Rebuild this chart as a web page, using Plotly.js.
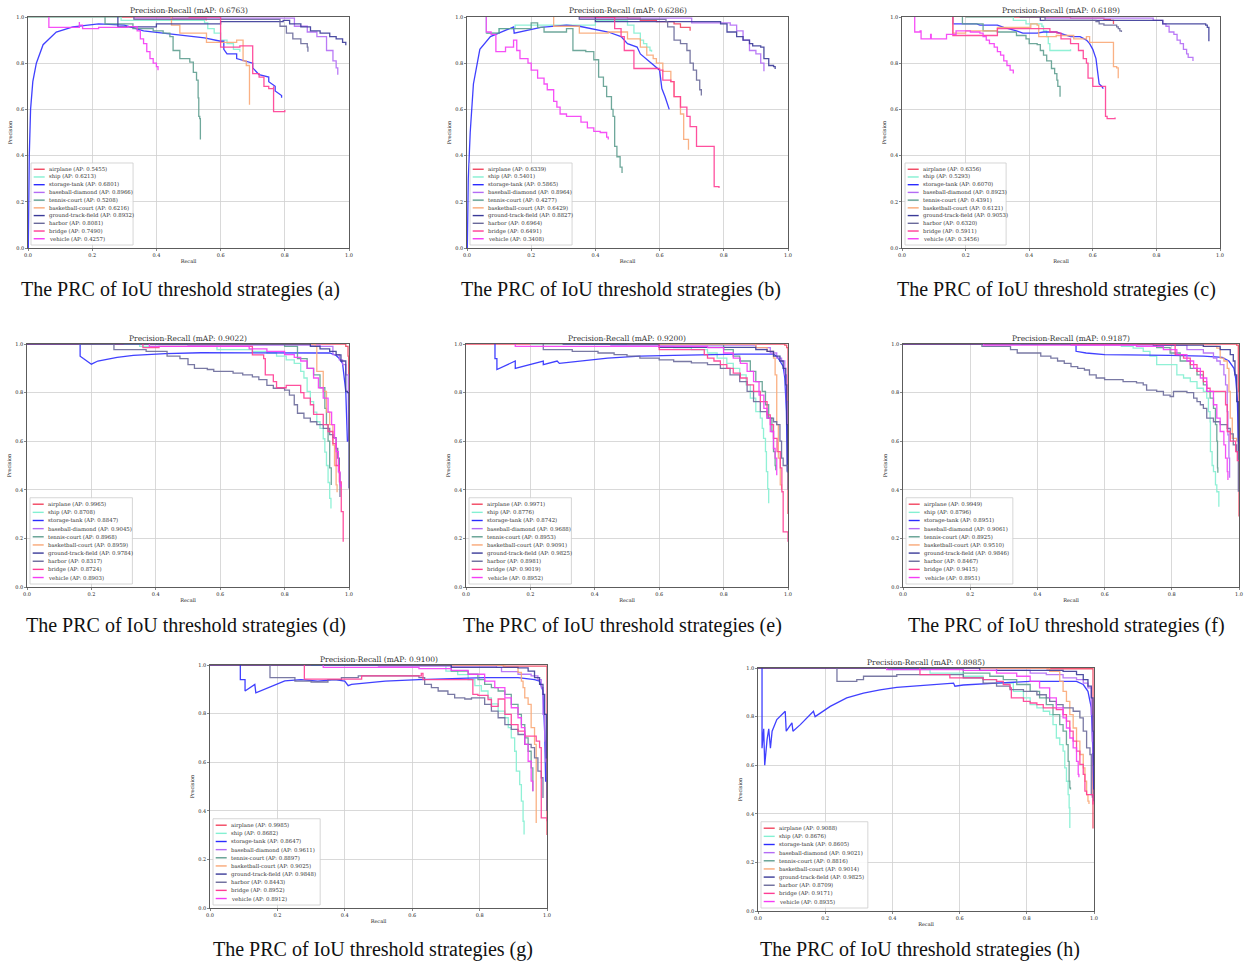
<!DOCTYPE html>
<html><head><meta charset="utf-8">
<script src="https://cdn.plot.ly/plotly-3.0.1.min.js"></script>
<style>html,body{margin:0;padding:0;background:#fff}#chart{width:1247px;height:964px}</style>
</head><body><div id="chart"></div>
<script>
// ---------------- DATA ----------------
const classNames = ['airplane','ship','storage-tank','baseball-diamond','tennis-court','basketball-court','ground-track-field','harbor','bridge','vehicle'];
const panelLetters = ['a','b','c','d','e','f','g','h'];
const mAPValues = [0.6763, 0.6286, 0.6189, 0.9022, 0.9200, 0.9187, 0.9100, 0.8985];
const apA = [0.5455,0.6213,0.6801,0.8966,0.5208,0.6216,0.8932,0.8081,0.7490,0.4257];
const apB = [0.6339,0.5401,0.5865,0.8964,0.4277,0.6429,0.8827,0.6964,0.6491,0.3408];
const apC = [0.6356,0.5293,0.6070,0.8923,0.4391,0.6121,0.9053,0.6320,0.5911,0.3456];
const apD = [0.9965,0.8708,0.8847,0.9045,0.8968,0.8959,0.9784,0.8317,0.8724,0.8903];
const apE = [0.9971,0.8776,0.8742,0.9688,0.8953,0.9091,0.9825,0.8981,0.9019,0.8952];
const apF = [0.9949,0.8796,0.8951,0.9061,0.8925,0.9510,0.9846,0.8467,0.9415,0.8951];
const apG = [0.9985,0.8682,0.8647,0.9611,0.8897,0.9025,0.9848,0.8443,0.8952,0.8912];
const apH = [0.9088,0.8676,0.8605,0.9021,0.8816,0.9014,0.9825,0.8709,0.9171,0.8935];

// curves: [recall, precision] pairs
// (a)
const a_airplane = [[0,1],[0.45,1],[0.45,0.995],[0.55,0.995],[0.555,0.985]];
const a_ship = [[0,1],[0.29,1],[0.29,0.985],[0.55,0.975],[0.56,0.95],[0.58,0.93],[0.6,0.9],[0.62,0.885],[0.64,0.86],[0.66,0.85]];
const a_storage = [[0.001,0],[0.002,0.2],[0.004,0.4],[0.008,0.6],[0.015,0.72],[0.026,0.8],[0.047,0.88],[0.088,0.935],[0.14,0.957],[0.22,0.97],[0.3,0.965],[0.36,0.94],[0.43,0.93],[0.5,0.92],[0.55,0.91],[0.6,0.895],[0.61,0.895],[0.61,0.86],[0.62,0.84],[0.65,0.84],[0.65,0.82],[0.7,0.8],[0.7,0.78],[0.72,0.75],[0.75,0.74],[0.75,0.72],[0.77,0.7],[0.77,0.68],[0.79,0.66],[0.79,0.65]];
const a_baseball = [[0.33,1],[0.33,0.995],[0.8,0.995],[0.83,0.96],[0.87,0.935],[0.9,0.915],[0.93,0.855],[0.95,0.81],[0.96,0.78],[0.965,0.75]];
const a_tennis = [[0.24,1],[0.24,0.97],[0.327,0.95],[0.39,0.94],[0.421,0.93],[0.442,0.915],[0.452,0.855],[0.473,0.82],[0.504,0.805],[0.515,0.76],[0.525,0.727],[0.53,0.65],[0.532,0.57],[0.535,0.56],[0.537,0.47]];
const a_basketball = [[0.447,1],[0.447,0.965],[0.473,0.93],[0.556,0.93],[0.556,0.89],[0.65,0.89],[0.65,0.9],[0.67,0.9],[0.67,0.81],[0.68,0.79],[0.69,0.79],[0.69,0.62]];
const a_gtf = [[0.28,1],[0.28,0.957],[0.4,0.97],[0.6,0.98],[0.795,0.985],[0.815,0.97],[0.85,0.957],[0.88,0.94],[0.91,0.93],[0.94,0.915],[0.96,0.905],[0.98,0.89],[0.99,0.878]];
const a_harbor = [[0.33,1],[0.33,0.99],[0.765,0.99],[0.785,0.96],[0.805,0.93],[0.825,0.905],[0.85,0.885],[0.87,0.87],[0.872,0.85]];
const a_bridge = [[0.5,1],[0.6,1],[0.6,0.87],[0.66,0.87],[0.66,0.875],[0.7,0.875],[0.7,0.755],[0.72,0.74],[0.735,0.7],[0.75,0.69],[0.765,0.7],[0.765,0.59],[0.8,0.597]];
const a_vehicle = [[0.065,1],[0.065,0.955],[0.16,0.978],[0.16,0.965],[0.17,0.95],[0.22,0.955],[0.31,0.958],[0.34,0.94],[0.35,0.905],[0.36,0.885],[0.37,0.85],[0.38,0.82],[0.39,0.8],[0.4,0.785],[0.405,0.77]];
// (b)
const b_airplane = [[0.35,1],[0.5,1],[0.5,0.995],[0.54,0.985],[0.59,0.98],[0.645,0.97],[0.665,0.955],[0.695,0.94]];
const b_ship = [[0.06,1],[0.06,0.93],[0.1,0.95],[0.15,0.965],[0.4,0.985],[0.5,0.965],[0.52,0.93],[0.54,0.9],[0.55,0.885],[0.56,0.87],[0.57,0.855],[0.575,0.85]];
const b_storage = [[0.001,0],[0.002,0.15],[0.004,0.3],[0.01,0.5],[0.02,0.71],[0.04,0.86],[0.073,0.915],[0.125,0.945],[0.145,0.957],[0.147,0.93],[0.23,0.955],[0.31,0.965],[0.35,0.96],[0.44,0.935],[0.48,0.915],[0.5,0.885],[0.53,0.87],[0.54,0.84],[0.57,0.805],[0.59,0.785],[0.6,0.77],[0.607,0.69],[0.617,0.655],[0.63,0.6]];
const b_baseball = [[0.35,1],[0.35,0.995],[0.7,0.975],[0.82,0.965],[0.84,0.94],[0.86,0.9],[0.88,0.855],[0.9,0.84],[0.915,0.8],[0.925,0.765]];
const b_tennis = [[0.06,0.93],[0.1,0.95],[0.2,0.975],[0.22,0.955],[0.24,0.935],[0.31,0.935],[0.31,0.95],[0.33,0.855],[0.37,0.85],[0.395,0.815],[0.41,0.74],[0.425,0.7],[0.435,0.655],[0.45,0.6],[0.455,0.57],[0.46,0.44],[0.467,0.395],[0.477,0.35],[0.483,0.325]];
const b_basketball = [[0.27,1],[0.27,0.96],[0.35,0.96],[0.35,0.93],[0.44,0.935],[0.5,0.905],[0.54,0.87],[0.56,0.835],[0.58,0.82],[0.59,0.8],[0.61,0.765],[0.635,0.72],[0.645,0.655],[0.665,0.58],[0.675,0.47],[0.69,0.425]];
const b_gtf = [[0.4,1],[0.4,0.98],[0.79,0.97],[0.81,0.935],[0.84,0.915],[0.86,0.9],[0.88,0.885],[0.89,0.875],[0.915,0.87],[0.925,0.82],[0.94,0.79],[0.955,0.785],[0.96,0.775]];
const b_harbor = [[0.35,1],[0.35,0.99],[0.62,0.98],[0.625,0.957],[0.645,0.9],[0.665,0.885],[0.685,0.855],[0.695,0.8],[0.705,0.77],[0.715,0.727],[0.725,0.685],[0.73,0.66]];
const b_bridge = [[0.4,1],[0.46,1],[0.46,0.95],[0.48,0.915],[0.49,0.855],[0.51,0.855],[0.52,0.777],[0.6,0.777],[0.6,0.77],[0.61,0.727],[0.635,0.72],[0.645,0.655],[0.665,0.61],[0.685,0.57],[0.695,0.525],[0.715,0.44],[0.77,0.44],[0.77,0.266],[0.785,0.26]];
const b_vehicle = [[0.06,1],[0.06,0.935],[0.075,0.925],[0.09,0.85],[0.12,0.87],[0.145,0.9],[0.155,0.855],[0.165,0.82],[0.19,0.8],[0.2,0.77],[0.22,0.735],[0.24,0.71],[0.25,0.685],[0.27,0.635],[0.28,0.61],[0.29,0.58],[0.31,0.57],[0.355,0.545],[0.375,0.52],[0.395,0.505],[0.415,0.5],[0.435,0.48],[0.44,0.47]];
// (c)
const c_airplane = [[0.2,1],[0.53,1],[0.53,0.995],[0.635,0.99],[0.655,0.985],[0.665,0.97]];
const c_ship = [[0.2,1],[0.35,1],[0.35,0.985],[0.39,0.97],[0.44,0.96],[0.445,0.94],[0.455,0.915],[0.46,0.885],[0.465,0.855],[0.53,0.86]];
const c_storage = [[0.16,1],[0.16,0.97],[0.235,0.97],[0.245,0.965],[0.3,0.965],[0.32,0.955],[0.36,0.94],[0.38,0.93],[0.425,0.93],[0.445,0.935],[0.485,0.935],[0.53,0.915],[0.56,0.915],[0.58,0.9],[0.59,0.885],[0.6,0.86],[0.61,0.82],[0.62,0.71],[0.628,0.7],[0.633,0.69]];
const c_baseball = [[0.45,1],[0.45,0.995],[0.79,0.985],[0.82,0.97],[0.83,0.96],[0.84,0.935],[0.855,0.925],[0.865,0.9],[0.875,0.885],[0.885,0.86],[0.895,0.84],[0.9,0.825],[0.915,0.81]];
const c_tennis = [[0.19,1],[0.19,0.97],[0.245,0.97],[0.255,0.94],[0.3,0.935],[0.36,0.92],[0.39,0.905],[0.4,0.885],[0.425,0.88],[0.435,0.855],[0.445,0.835],[0.455,0.81],[0.47,0.777],[0.48,0.755],[0.487,0.727],[0.49,0.7],[0.497,0.655]];
const c_basketball = [[0.16,1],[0.16,0.93],[0.2,0.94],[0.3,0.955],[0.405,0.97],[0.425,0.965],[0.43,0.915],[0.485,0.92],[0.54,0.905],[0.58,0.915],[0.59,0.89],[0.655,0.89],[0.665,0.785],[0.675,0.78],[0.68,0.735]];
const c_gtf = [[0.435,1],[0.435,0.985],[0.8,0.985],[0.82,0.97],[0.955,0.965],[0.96,0.955],[0.965,0.895]];
const c_harbor = [[0.37,1],[0.45,1],[0.45,0.985],[0.61,0.98],[0.62,0.97],[0.635,0.965],[0.675,0.957],[0.68,0.95],[0.685,0.94],[0.69,0.935]];
const c_bridge = [[0.16,1],[0.16,0.92],[0.3,0.95],[0.465,0.935],[0.487,0.93],[0.5,0.905],[0.53,0.885],[0.55,0.885],[0.555,0.855],[0.57,0.82],[0.58,0.8],[0.585,0.735],[0.595,0.735],[0.6,0.7],[0.633,0.7],[0.64,0.57],[0.645,0.56],[0.67,0.565]];
const c_vehicle = [[0.04,1],[0.04,0.935],[0.057,0.94],[0.06,0.905],[0.09,0.925],[0.092,0.905],[0.14,0.925],[0.17,0.94],[0.215,0.935],[0.245,0.93],[0.255,0.915],[0.265,0.9],[0.275,0.885],[0.29,0.87],[0.3,0.85],[0.31,0.835],[0.32,0.81],[0.33,0.79],[0.34,0.77],[0.35,0.755]];
// (d)
const d_airplane = [[0,1],[0.97,1],[0.99,0.99],[0.997,0.95],[0.999,0.8]];
const d_ship = [[0.3,1],[0.35,1],[0.35,0.99],[0.59,0.977],[0.7,0.97],[0.745,0.963],[0.775,0.95],[0.805,0.935],[0.83,0.92],[0.85,0.887],[0.86,0.86],[0.87,0.805],[0.88,0.763],[0.89,0.72],[0.9,0.68],[0.91,0.653],[0.92,0.61],[0.925,0.555],[0.93,0.5],[0.935,0.43],[0.94,0.365],[0.944,0.323]];
const d_storage = [[0.165,1],[0.165,0.95],[0.175,0.94],[0.2,0.917],[0.22,0.93],[0.28,0.945],[0.33,0.953],[0.43,0.96],[0.54,0.964],[0.75,0.963],[0.94,0.963],[0.96,0.953],[0.97,0.94],[0.98,0.92],[0.99,0.805],[0.995,0.6],[0.997,0.6]];
const d_baseball = [[0.5,1],[0.5,0.995],[0.91,0.99],[0.95,0.956],[0.97,0.935],[0.98,0.915],[0.99,0.873],[0.998,0.668],[0.999,0.6]];
const d_tennis = [[0.4,1],[0.75,1],[0.8,0.99],[0.84,0.94],[0.87,0.9],[0.89,0.873],[0.91,0.82],[0.925,0.735],[0.93,0.668],[0.935,0.6],[0.94,0.49],[0.945,0.42]];
const d_basketball = [[0.5,1],[0.87,1],[0.895,0.99],[0.9,0.887],[0.92,0.805],[0.93,0.72],[0.94,0.668],[0.95,0.584],[0.955,0.5],[0.96,0.42],[0.963,0.39]];
const d_gtf = [[0,1],[0.88,0.99],[0.91,0.98],[0.94,0.97],[0.96,0.955],[0.975,0.93],[0.99,0.805],[0.995,0.8],[1.0,0.405]];
const d_harbor = [[0.16,1],[0.27,1],[0.27,0.977],[0.35,0.977],[0.37,0.97],[0.435,0.95],[0.475,0.94],[0.5,0.915],[0.52,0.9],[0.56,0.895],[0.58,0.887],[0.64,0.88],[0.67,0.873],[0.7,0.865],[0.72,0.853],[0.745,0.83],[0.765,0.818],[0.8,0.81],[0.815,0.79],[0.83,0.75],[0.84,0.715],[0.86,0.695],[0.88,0.68],[0.9,0.668],[0.92,0.653],[0.94,0.627],[0.95,0.615],[0.96,0.57],[0.965,0.53],[0.97,0.47],[0.972,0.37]];
const d_bridge = [[0.36,1],[0.36,0.985],[0.4,0.985],[0.41,0.99],[0.7,0.99],[0.7,0.955],[0.735,0.94],[0.74,0.873],[0.765,0.845],[0.775,0.82],[0.8,0.82],[0.805,0.83],[0.83,0.83],[0.85,0.8],[0.86,0.777],[0.88,0.75],[0.89,0.71],[0.91,0.71],[0.92,0.668],[0.935,0.64],[0.95,0.59],[0.96,0.5],[0.97,0.433],[0.976,0.31],[0.982,0.186]];
const d_vehicle = [[0.38,1],[0.38,0.99],[0.69,0.98],[0.745,0.97],[0.8,0.956],[0.83,0.945],[0.85,0.93],[0.87,0.9],[0.89,0.86],[0.905,0.82],[0.92,0.777],[0.935,0.72],[0.946,0.668],[0.955,0.612],[0.96,0.557],[0.967,0.474],[0.972,0.42],[0.975,0.41]];
// (e)
const e_airplane = [[0,1],[0.99,1],[0.99,0.995],[0.996,0.985],[1.0,0.3]];
const e_ship = [[0.2,1],[0.6,1],[0.6,0.99],[0.645,0.985],[0.7,0.977],[0.75,0.963],[0.78,0.942],[0.81,0.92],[0.83,0.9],[0.85,0.873],[0.87,0.832],[0.883,0.777],[0.9,0.722],[0.914,0.695],[0.92,0.653],[0.924,0.612],[0.93,0.557],[0.933,0.475],[0.937,0.405],[0.94,0.345]];
const e_storage = [[0.09,1],[0.09,0.94],[0.096,0.94],[0.096,0.895],[0.153,0.93],[0.153,0.9],[0.24,0.93],[0.24,0.915],[0.283,0.93],[0.29,0.92],[0.44,0.942],[0.54,0.95],[0.645,0.953],[0.75,0.956],[0.85,0.958],[0.955,0.958],[0.965,0.95],[0.975,0.93],[0.985,0.908],[0.99,0.86],[0.995,0.722],[0.998,0.475]];
const e_baseball = [[0.45,1],[0.45,0.995],[0.85,0.995],[0.9,0.985],[0.945,0.963],[0.965,0.942],[0.98,0.93],[0.99,0.873],[0.995,0.763],[1.0,0.65]];
const e_tennis = [[0.35,1],[0.75,1],[0.8,0.977],[0.83,0.95],[0.85,0.93],[0.883,0.887],[0.9,0.845],[0.92,0.805],[0.93,0.75],[0.94,0.695],[0.95,0.64],[0.955,0.557],[0.96,0.5],[0.962,0.48]];
const e_basketball = [[0.5,1],[0.88,1],[0.9,0.985],[0.935,0.97],[0.955,0.942],[0.96,0.873],[0.965,0.668],[0.97,0.53],[0.976,0.42],[0.98,0.4]];
const e_gtf = [[0.3,1],[0.6,1],[0.6,0.986],[0.85,0.986],[0.9,0.977],[0.935,0.97],[0.955,0.95],[0.975,0.93],[0.985,0.9],[0.993,0.832],[0.996,0.668],[0.998,0.475],[1.0,0.47]];
const e_harbor = [[0.24,1],[0.24,0.977],[0.32,0.977],[0.33,0.97],[0.41,0.963],[0.46,0.956],[0.5,0.95],[0.54,0.942],[0.58,0.942],[0.6,0.935],[0.645,0.928],[0.7,0.922],[0.75,0.915],[0.79,0.9],[0.82,0.873],[0.85,0.845],[0.873,0.805],[0.893,0.763],[0.914,0.722],[0.935,0.695],[0.955,0.68],[0.965,0.668],[0.975,0.6],[0.98,0.53],[0.985,0.5],[0.995,0.5],[1.0,0.4]];
const e_bridge = [[0.6,1],[0.6,0.977],[0.73,0.977],[0.74,0.956],[0.75,0.942],[0.77,0.93],[0.79,0.915],[0.81,0.9],[0.83,0.88],[0.852,0.86],[0.873,0.832],[0.893,0.805],[0.914,0.763],[0.935,0.708],[0.945,0.668],[0.955,0.612],[0.966,0.557],[0.976,0.49],[0.981,0.392],[0.985,0.227],[0.996,0.227],[1.0,0.186]];
const e_vehicle = [[0.153,1],[0.153,0.99],[0.62,0.99],[0.75,0.985],[0.8,0.963],[0.83,0.942],[0.852,0.92],[0.873,0.887],[0.893,0.845],[0.91,0.79],[0.925,0.735],[0.935,0.695],[0.945,0.64],[0.955,0.57],[0.96,0.53],[0.965,0.46]];
// (f)
const f_airplane = [[0,1],[0.983,1],[0.993,0.995],[0.998,0.805],[1.0,0.29]];
const f_ship = [[0.33,1],[0.65,1],[0.65,0.99],[0.685,0.983],[0.715,0.97],[0.735,0.95],[0.755,0.915],[0.795,0.915],[0.815,0.873],[0.835,0.86],[0.855,0.845],[0.875,0.818],[0.894,0.805],[0.904,0.777],[0.909,0.722],[0.914,0.68],[0.915,0.557],[0.92,0.5],[0.924,0.475],[0.93,0.42],[0.934,0.392],[0.94,0.33]];
const f_storage = [[0.4,1],[0.515,1],[0.515,0.97],[0.545,0.963],[0.6,0.956],[0.695,0.956],[0.795,0.953],[0.894,0.95],[0.95,0.945],[0.97,0.93],[0.985,0.9],[0.99,0.86],[0.995,0.777],[0.998,0.6],[1.0,0.59]];
const f_baseball = [[0.5,1],[0.5,0.995],[0.8,0.995],[0.845,0.977],[0.894,0.963],[0.924,0.942],[0.934,0.93],[0.944,0.915],[0.955,0.873],[0.96,0.832],[0.965,0.722],[0.967,0.626],[0.97,0.53],[0.972,0.45]];
const f_tennis = [[0.35,1],[0.7,1],[0.755,0.985],[0.795,0.963],[0.825,0.93],[0.855,0.9],[0.875,0.873],[0.894,0.832],[0.904,0.805],[0.914,0.777],[0.924,0.735],[0.93,0.668],[0.934,0.6],[0.936,0.49],[0.937,0.47]];
const f_basketball = [[0.4,1],[0.894,1],[0.894,0.99],[0.934,0.983],[0.944,0.942],[0.955,0.93],[0.965,0.9],[0.97,0.805],[0.974,0.695],[0.98,0.612],[0.993,0.6]];
const f_gtf = [[0,1],[0.745,1],[0.745,0.995],[0.894,0.99],[0.944,0.977],[0.974,0.956],[0.983,0.93],[0.988,0.873],[0.993,0.763],[0.998,0.53],[1.0,0.52]];
const f_harbor = [[0.235,1],[0.235,0.99],[0.3,0.99],[0.32,0.977],[0.34,0.963],[0.4,0.963],[0.41,0.95],[0.44,0.942],[0.46,0.93],[0.48,0.92],[0.5,0.907],[0.52,0.9],[0.54,0.893],[0.555,0.873],[0.575,0.86],[0.6,0.853],[0.645,0.853],[0.655,0.845],[0.695,0.84],[0.715,0.832],[0.725,0.81],[0.755,0.805],[0.775,0.79],[0.795,0.784],[0.805,0.805],[0.845,0.8],[0.865,0.777],[0.875,0.763],[0.885,0.75],[0.894,0.735],[0.904,0.695],[0.924,0.68],[0.944,0.668],[0.965,0.653],[0.974,0.63],[0.983,0.585],[0.993,0.557],[0.998,0.392]];
const f_bridge = [[0.5,1],[0.805,1],[0.81,0.956],[0.835,0.942],[0.855,0.915],[0.875,0.887],[0.894,0.845],[0.904,0.818],[0.914,0.805],[0.955,0.805],[0.96,0.75],[0.965,0.64],[0.974,0.6],[0.99,0.557],[0.995,0.52],[1.0,0.52]];
const f_vehicle = [[0.24,1],[0.24,0.995],[0.695,0.99],[0.775,0.977],[0.815,0.956],[0.845,0.93],[0.865,0.9],[0.885,0.86],[0.904,0.805],[0.924,0.75],[0.934,0.695],[0.944,0.64],[0.955,0.585],[0.96,0.53],[0.965,0.475],[0.967,0.44]];
// (g)
const g_airplane = [[0,1],[0.87,1],[0.87,0.995],[1.0,0.99],[1.0,0.3]];
const g_ship = [[0.3,1],[0.7,1],[0.7,0.975],[0.735,0.96],[0.766,0.94],[0.786,0.915],[0.805,0.893],[0.825,0.865],[0.835,0.84],[0.855,0.81],[0.875,0.783],[0.885,0.742],[0.894,0.7],[0.904,0.645],[0.909,0.563],[0.919,0.508],[0.924,0.44],[0.929,0.357],[0.932,0.302]];
const g_storage = [[0.09,1],[0.09,0.94],[0.104,0.94],[0.104,0.893],[0.133,0.92],[0.136,0.885],[0.222,0.935],[0.27,0.94],[0.32,0.934],[0.37,0.94],[0.4,0.934],[0.41,0.915],[0.42,0.92],[0.52,0.934],[0.62,0.94],[0.716,0.945],[0.815,0.948],[0.914,0.948],[0.963,0.94],[0.978,0.934],[0.988,0.893],[0.993,0.728],[0.996,0.52]];
const g_baseball = [[0.5,1],[0.5,0.995],[0.85,0.99],[0.865,0.973],[0.914,0.962],[0.953,0.955],[0.973,0.94],[0.983,0.907],[0.988,0.797],[0.993,0.687],[0.996,0.6]];
const g_tennis = [[0.3,1],[0.7,1],[0.716,0.975],[0.766,0.962],[0.795,0.94],[0.815,0.92],[0.835,0.907],[0.855,0.893],[0.875,0.879],[0.894,0.838],[0.914,0.797],[0.924,0.755],[0.934,0.7],[0.944,0.645],[0.953,0.577],[0.958,0.48]];
const g_basketball = [[0.5,1],[0.875,1],[0.875,0.99],[0.914,0.97],[0.924,0.934],[0.929,0.907],[0.934,0.865],[0.944,0.838],[0.953,0.742],[0.963,0.673],[0.968,0.35]];
const g_gtf = [[0,1],[0.716,1],[0.716,0.99],[0.914,0.988],[0.944,0.975],[0.963,0.948],[0.978,0.92],[0.988,0.879],[0.993,0.797],[0.998,0.618],[1.0,0.4]];
const g_harbor = [[0.178,1],[0.178,0.948],[0.242,0.948],[0.252,0.934],[0.3,0.93],[0.35,0.94],[0.39,0.948],[0.44,0.955],[0.52,0.955],[0.62,0.948],[0.637,0.92],[0.657,0.907],[0.677,0.893],[0.706,0.879],[0.726,0.865],[0.756,0.86],[0.776,0.865],[0.795,0.865],[0.815,0.838],[0.835,0.81],[0.855,0.783],[0.875,0.755],[0.894,0.735],[0.914,0.714],[0.934,0.673],[0.953,0.66],[0.963,0.618],[0.973,0.563],[0.983,0.536],[0.988,0.453]];
const g_bridge = [[0.28,1],[0.28,0.942],[0.45,0.955],[0.627,0.965],[0.632,0.94],[0.776,0.94],[0.78,0.879],[0.795,0.875],[0.825,0.858],[0.835,0.83],[0.855,0.86],[0.875,0.797],[0.894,0.755],[0.914,0.728],[0.934,0.707],[0.963,0.707],[0.968,0.687],[0.978,0.66],[0.983,0.371],[1.0,0.357]];
const g_vehicle = [[0.336,1],[0.336,0.99],[0.6,0.99],[0.62,0.985],[0.716,0.978],[0.766,0.962],[0.815,0.934],[0.845,0.907],[0.875,0.865],[0.894,0.824],[0.914,0.783],[0.924,0.742],[0.934,0.673],[0.944,0.604],[0.953,0.522],[0.958,0.48]];
// (h)
const h_airplane = [[0,1],[0.86,1],[0.86,0.997],[0.997,0.997],[0.997,0.34]];
const h_ship = [[0.39,1],[0.39,0.993],[0.512,0.979],[0.611,0.966],[0.67,0.952],[0.71,0.938],[0.76,0.904],[0.79,0.877],[0.81,0.849],[0.83,0.836],[0.849,0.822],[0.868,0.808],[0.878,0.767],[0.888,0.712],[0.898,0.685],[0.908,0.658],[0.913,0.589],[0.918,0.534],[0.923,0.479],[0.926,0.425],[0.928,0.342]];
const h_storage = [[0.012,1],[0.012,0.67],[0.017,0.75],[0.02,0.6],[0.027,0.705],[0.032,0.75],[0.037,0.67],[0.042,0.74],[0.056,0.788],[0.081,0.822],[0.084,0.74],[0.096,0.767],[0.101,0.774],[0.104,0.74],[0.126,0.767],[0.165,0.822],[0.17,0.8],[0.215,0.842],[0.264,0.877],[0.314,0.897],[0.363,0.91],[0.413,0.92],[0.512,0.932],[0.582,0.938],[0.586,0.925],[0.611,0.93],[0.71,0.938],[0.81,0.945],[0.948,0.945],[0.968,0.932],[0.982,0.904],[0.992,0.836],[0.997,0.644],[0.999,0.5]];
const h_baseball = [[0.4,1],[0.7,1],[0.71,0.99],[0.81,0.979],[0.858,0.973],[0.908,0.959],[0.948,0.952],[0.968,0.938],[0.982,0.918],[0.992,0.808],[0.995,0.699],[0.997,0.65]];
const h_tennis = [[0.4,1],[0.6,1],[0.611,0.979],[0.69,0.966],[0.73,0.952],[0.77,0.932],[0.81,0.904],[0.838,0.877],[0.858,0.849],[0.878,0.808],[0.898,0.767],[0.908,0.74],[0.918,0.685],[0.923,0.616],[0.926,0.534],[0.928,0.507],[0.93,0.5]];
const h_basketball = [[0.5,1],[0.868,1],[0.868,0.986],[0.898,0.945],[0.908,0.904],[0.918,0.863],[0.928,0.808],[0.938,0.753],[0.948,0.699],[0.958,0.644],[0.968,0.589],[0.973,0.534],[0.978,0.479],[0.982,0.452],[0.985,0.44]];
const h_gtf = [[0,1],[0.66,1],[0.66,0.99],[0.908,0.986],[0.948,0.973],[0.968,0.952],[0.982,0.925],[0.992,0.877],[0.997,0.74],[0.999,0.603],[1.0,0.452]];
const h_harbor = [[0.235,1],[0.235,0.945],[0.294,0.952],[0.314,0.966],[0.413,0.973],[0.512,0.973],[0.611,0.959],[0.67,0.938],[0.71,0.925],[0.75,0.911],[0.79,0.904],[0.83,0.89],[0.858,0.877],[0.868,0.863],[0.888,0.849],[0.908,0.836],[0.938,0.822],[0.958,0.795],[0.968,0.74],[0.978,0.671],[0.988,0.644],[0.992,0.479],[0.995,0.466]];
const h_bridge = [[0.482,1],[0.482,0.973],[0.561,0.973],[0.571,0.959],[0.67,0.952],[0.71,0.945],[0.73,0.932],[0.75,0.918],[0.754,0.877],[0.79,0.863],[0.81,0.856],[0.83,0.849],[0.849,0.836],[0.888,0.829],[0.908,0.808],[0.918,0.781],[0.928,0.74],[0.938,0.699],[0.948,0.658],[0.958,0.603],[0.968,0.562],[0.973,0.493],[0.978,0.479],[0.992,0.479],[0.997,0.438]];
const h_vehicle = [[0.383,1],[0.383,0.993],[0.512,0.993],[0.611,0.99],[0.71,0.979],[0.77,0.966],[0.81,0.945],[0.838,0.918],[0.868,0.877],[0.888,0.836],[0.908,0.795],[0.918,0.753],[0.928,0.712],[0.938,0.671],[0.948,0.616],[0.953,0.562],[0.955,0.55]];

// ---------------- ASSEMBLY ----------------
const panelCurves = [
  [a_airplane,a_ship,a_storage,a_baseball,a_tennis,a_basketball,a_gtf,a_harbor,a_bridge,a_vehicle],
  [b_airplane,b_ship,b_storage,b_baseball,b_tennis,b_basketball,b_gtf,b_harbor,b_bridge,b_vehicle],
  [c_airplane,c_ship,c_storage,c_baseball,c_tennis,c_basketball,c_gtf,c_harbor,c_bridge,c_vehicle],
  [d_airplane,d_ship,d_storage,d_baseball,d_tennis,d_basketball,d_gtf,d_harbor,d_bridge,d_vehicle],
  [e_airplane,e_ship,e_storage,e_baseball,e_tennis,e_basketball,e_gtf,e_harbor,e_bridge,e_vehicle],
  [f_airplane,f_ship,f_storage,f_baseball,f_tennis,f_basketball,f_gtf,f_harbor,f_bridge,f_vehicle],
  [g_airplane,g_ship,g_storage,g_baseball,g_tennis,g_basketball,g_gtf,g_harbor,g_bridge,g_vehicle],
  [h_airplane,h_ship,h_storage,h_baseball,h_tennis,h_basketball,h_gtf,h_harbor,h_bridge,h_vehicle]
];
const panelAPs = [apA,apB,apC,apD,apE,apF,apG,apH];

// styles / layout (pixels)
const W = 1247, H = 964;
const classColors = ['#f2455f','#84f0d2','#2b2bff','#b36cf5','#5f9e90','#f9a877','#3a3a98','#6a6a9a','#ff3d94','#f53cf5'];
const boxes = [ // [left, top, right, bottom] px
  [28,17,349,248],[467,17,788,248],[902,17,1220,248],
  [27,344,349,587],[466,344,788,587],[903,344,1239,587],
  [210,665,547,908],[758,668,1094,911]
];
const captionPos = [[180,289],[621,289],[1056,289],[186,625],[622,625],[1066,625],[373,949],[920,949]];
const serif = 'DejaVu Serif';
const px = v => v / W;
const py = v => 1 - v / H;

const traces = [];
const layout = {
  width: W, height: H, margin: {l:0,r:0,t:0,b:0},
  paper_bgcolor: '#fff', plot_bgcolor: '#fff', showlegend: false,
  font: {family: serif, color: '#222', size: 5},
  annotations: [], shapes: []
};

boxes.forEach((bx, i) => {
  const [L, T, R, B] = bx;
  const n = i + 1;
  const xa = 'xaxis' + (n === 1 ? '' : n), ya = 'yaxis' + (n === 1 ? '' : n);
  const xr = 'x' + (n === 1 ? '' : n), yr = 'y' + (n === 1 ? '' : n);
  const axCommon = {
    range: [0, 1], tick0: 0, dtick: 0.2, tickformat: '.1f',
    showgrid: true, gridcolor: '#d0d0d0', gridwidth: 0.8, zeroline: false,
    showline: true, mirror: true, linecolor: '#333', linewidth: 0.8,
    ticks: 'outside', ticklen: 2, tickwidth: 0.6, tickcolor: '#333',
    tickfont: {family: serif, size: 5, color: '#222'}, fixedrange: true
  };
  layout[xa] = Object.assign({}, axCommon, {domain: [px(L), px(R)], anchor: yr,
    title: {text: 'Recall', font: {family: serif, size: 5, color: '#222'}, standoff: 2}});
  layout[ya] = Object.assign({}, axCommon, {domain: [py(B), py(T)], anchor: xr,
    title: {text: 'Precision', font: {family: serif, size: 5, color: '#222'}, standoff: 3}});

  panelCurves[i].forEach((curve, k) => {
    traces.push({
      type: 'scatter', mode: 'lines', xaxis: xr, yaxis: yr,
      x: curve.map(p => p[0]), y: curve.map(p => p[1]),
      name: classNames[k], showlegend: false, hoverinfo: 'skip',
      line: {color: classColors[k], width: 1.3, shape: k === 2 ? 'linear' : 'hv'},
      opacity: 0.9
    });
  });

  // subplot title
  layout.annotations.push({
    xref: 'paper', yref: 'paper', x: px((L + R) / 2), y: py(T - 6),
    xanchor: 'center', yanchor: 'middle', showarrow: false,
    text: 'Precision-Recall (mAP: ' + mAPValues[i].toFixed(4) + ')',
    font: {family: serif, size: 7.5, color: '#333'}
  });
  // caption
  layout.annotations.push({
    xref: 'paper', yref: 'paper', x: px(captionPos[i][0]), y: py(captionPos[i][1]),
    xanchor: 'center', yanchor: 'middle', showarrow: false,
    text: 'The PRC of IoU threshold strategies (' + panelLetters[i] + ')',
    font: {family: 'Liberation Serif', size: 20, color: '#111'}
  });

  // legend box (matplotlib-like)
  const lw = 0.318 * (R - L), lh = 0.355 * (B - T);
  const lx0 = L + 3, ly1 = B - 3, ly0 = ly1 - lh;
  layout.shapes.push({type: 'rect', xref: 'paper', yref: 'paper',
    x0: px(lx0), x1: px(lx0 + lw), y0: py(ly1), y1: py(ly0),
    line: {color: '#cccccc', width: 0.8}, fillcolor: 'rgba(255,255,255,0.85)', layer: 'above'});
  const pad = 2.4, step = (lh - 2 * pad) / 10;
  classNames.forEach((nm, k) => {
    const yy = ly0 + pad + (k + 0.5) * step;
    layout.shapes.push({type: 'line', xref: 'paper', yref: 'paper',
      x0: px(lx0 + 2.7), x1: px(lx0 + 13.7), y0: py(yy), y1: py(yy),
      line: {color: classColors[k], width: 1.4}, layer: 'above'});
    layout.annotations.push({xref: 'paper', yref: 'paper', x: px(lx0 + 16), y: py(yy),
      xanchor: 'left', yanchor: 'middle', showarrow: false,
      text: nm + ' (AP: ' + panelAPs[i][k].toFixed(4) + ')',
      font: {family: serif, size: 5.4, color: '#333'}});
  });
});

Plotly.newPlot('chart', traces, layout, {displayModeBar: false, staticPlot: true});
</script>
</body></html>
